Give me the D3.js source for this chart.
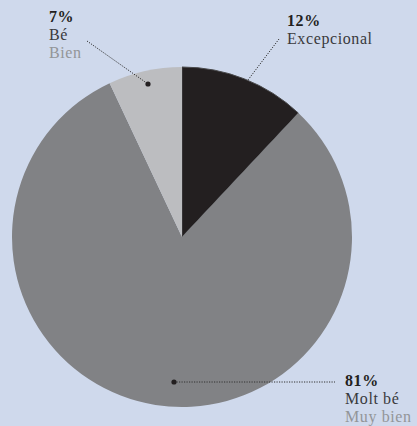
<!DOCTYPE html>
<html><head><meta charset="utf-8">
<script src="https://cdn.jsdelivr.net/npm/d3@7/dist/d3.min.js"></script>
<style>
html,body{margin:0;padding:0;background:#cfd9ec;}
svg{display:block;}
</style></head>
<body>
<script>
const categories = ["Excepcional", "Molt bé", "Bé"];
const subLabels = ["", "Muy bien", "Bien"];
const values = [12, 81, 7];
const colors = ["#231f20", "#818285", "#bcbdc0"];

const W = 417, H = 426;
const cx = 182, cy = 237, R = 170;

const svg = d3.select("body").append("svg").attr("width", W).attr("height", H);
svg.append("rect").attr("width", W).attr("height", H).attr("fill", "#cfd9ec");

const pie = d3.pie().sort(null).value(d => d)(values);
const arc = d3.arc().innerRadius(0).outerRadius(R);
const g = svg.append("g").attr("transform", `translate(${cx},${cy})`);
g.selectAll("path").data(pie).join("path")
  .attr("d", arc)
  .attr("fill", (d, i) => colors[i])
  .attr("stroke", (d, i) => i === 0 ? "#4a4a4c" : "none")
  .attr("stroke-width", 1);

const ann = [
  {i: 0, tx: 287, ty: 26, line: [[279, 39], [248, 80]], dot: false},
  {i: 1, tx: 345, ty: 386, line: [[174, 382], [335, 382]], dot: true},
  {i: 2, tx: 49, ty: 22, line: [[87, 41], [148, 84]], dot: true}
];
ann.forEach(a => {
  svg.append("line")
    .attr("x1", a.line[0][0]).attr("y1", a.line[0][1])
    .attr("x2", a.line[1][0]).attr("y2", a.line[1][1])
    .attr("stroke", "#333").attr("stroke-width", 1)
    .attr("stroke-dasharray", "1.2,1.3");
  if (a.dot) {
    const p = a.i === 2 ? a.line[1] : a.line[0];
    svg.append("circle").attr("cx", p[0]).attr("cy", p[1]).attr("r", 2.6).attr("fill", "#231f20");
  }
  const t = svg.append("text").attr("x", a.tx).attr("y", a.ty)
    .attr("font-family", "'Liberation Serif', 'DejaVu Serif', serif")
    .attr("font-size", 16).attr("letter-spacing", 0.6);
  t.append("tspan").attr("x", a.tx).attr("font-weight", "bold").attr("fill", "#231f20").text(values[a.i] + "%");
  t.append("tspan").attr("x", a.tx).attr("dy", 18).attr("fill", "#3a3a3c").text(categories[a.i]);
  if (subLabels[a.i]) t.append("tspan").attr("x", a.tx).attr("dy", 18).attr("fill", "#939598").text(subLabels[a.i]);
});
</script>
</body></html>
